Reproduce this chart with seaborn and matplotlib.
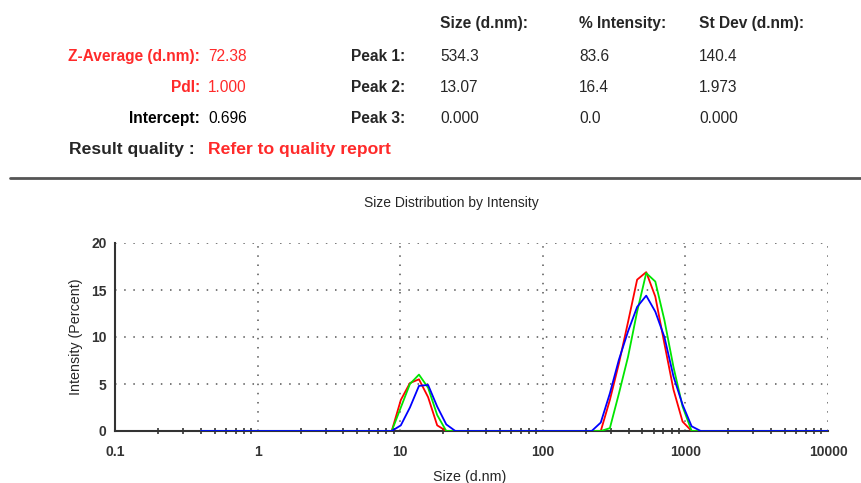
import pandas as pd
import numpy as np
import seaborn as sns
import matplotlib.pyplot as plt

# size classes (d.nm)
sizes = [0.4, 0.4632, 0.5365, 0.6213, 0.7195, 0.8332, 0.9649, 1.117, 1.294, 1.499,
         1.736, 2.010, 2.328, 2.696, 3.122, 3.615, 4.187, 4.849, 5.615, 6.503,
         7.531, 8.721, 10.10, 11.70, 13.54, 15.69, 18.17, 21.04, 24.36, 28.21,
         32.67, 37.84, 43.82, 50.75, 58.77, 68.06, 78.82, 91.28, 105.7, 122.4,
         141.8, 164.2, 190.1, 220.2, 255.0, 295.3, 342.0, 396.1, 458.7, 531.2,
         615.1, 712.4, 825.0, 955.4, 1106, 1281, 1484, 1718, 1990, 2305,
         2669, 3091, 3580, 4145, 4801, 5560, 6439, 7456, 8635, 10000]

run_red = [0, 0, 0, 0, 0, 0, 0, 0, 0, 0,
           0, 0, 0, 0, 0, 0, 0, 0, 0, 0,
           0, 0, 3.3, 5.1, 5.5, 3.6, 0.6, 0, 0, 0,
           0, 0, 0, 0, 0, 0, 0, 0, 0, 0,
           0, 0, 0, 0, 0, 3.3, 7.2, 11.6, 16.1, 16.9,
           14.3, 9.3, 4.4, 1.0, 0, 0, 0, 0, 0, 0,
           0, 0, 0, 0, 0, 0, 0, 0, 0, 0]

run_green = [0, 0, 0, 0, 0, 0, 0, 0, 0, 0,
             0, 0, 0, 0, 0, 0, 0, 0, 0, 0,
             0, 0, 2.5, 5.0, 6.0, 4.6, 1.7, 0, 0, 0,
             0, 0, 0, 0, 0, 0, 0, 0, 0, 0,
             0, 0, 0, 0, 0, 0.3, 4.0, 7.9, 12.7, 16.8,
             15.9, 11.8, 6.8, 2.6, 0, 0, 0, 0, 0, 0,
             0, 0, 0, 0, 0, 0, 0, 0, 0, 0]

run_blue = [0, 0, 0, 0, 0, 0, 0, 0, 0, 0,
            0, 0, 0, 0, 0, 0, 0, 0, 0, 0,
            0, 0, 0.6, 2.5, 4.8, 4.9, 2.6, 0.7, 0, 0,
            0, 0, 0, 0, 0, 0, 0, 0, 0, 0,
            0, 0, 0, 0, 0.9, 4.0, 7.6, 10.6, 13.2, 14.4,
            12.7, 10.0, 5.8, 2.8, 0.5, 0, 0, 0, 0, 0,
            0, 0, 0, 0, 0, 0, 0, 0, 0, 0]

xticks = [0.1, 1, 10, 100, 1000, 10000]
xticklabels = ['0.1', '1', '10', '100', '1000', '10000']
yticks = [0, 5, 10, 15, 20]

# header table
col_heads = ['Size (d.nm):', '% Intensity:', 'St Dev (d.nm):']
peak_labels = ['Peak 1:', 'Peak 2:', 'Peak 3:']
peak_size = ['534.3', '13.07', '0.000']
peak_int = ['83.6', '16.4', '0.0']
peak_sd = ['140.4', '1.973', '0.000']
left_labels = ['Z-Average (d.nm):', 'PdI:', 'Intercept:']
left_values = ['72.38', '1.000', '0.696']
left_colors = ['#ff2a2a', '#ff2a2a', 'black']

df = pd.concat([
    pd.DataFrame({'size': sizes, 'intensity': run_red, 'run': 'r1'}),
    pd.DataFrame({'size': sizes, 'intensity': run_green, 'run': 'r2'}),
    pd.DataFrame({'size': sizes, 'intensity': run_blue, 'run': 'r3'}),
])

sns.set_style('white')
plt.rcParams['font.family'] = ['Liberation Sans', 'DejaVu Sans']

W, H = 862, 483
fig = plt.figure(figsize=(W / 100, H / 100), dpi=100)

def px(x, y):
    return x / W, 1 - y / H

# header
VA = 'center_baseline'
for x, t in zip([440, 579, 699], col_heads):
    fig.text(*px(x, 22), t, fontsize=11.2, fontweight='bold', va=VA, ha='left')
rows_y = [55, 86, 117]
for i, y in enumerate(rows_y):
    fig.text(*px(200, y), left_labels[i], fontsize=11.2, fontweight='bold',
             color=left_colors[i], va=VA, ha='right')
    fig.text(*px(208, y), left_values[i], fontsize=11.2, color=left_colors[i],
             va=VA, ha='left')
    fig.text(*px(405, y), peak_labels[i], fontsize=11.2, fontweight='bold',
             va=VA, ha='right')
    fig.text(*px(440, y), peak_size[i], fontsize=11.2, va=VA, ha='left')
    fig.text(*px(579, y), peak_int[i], fontsize=11.2, va=VA, ha='left')
    fig.text(*px(699, y), peak_sd[i], fontsize=11.2, va=VA, ha='left')
fig.text(*px(195, 148), 'Result quality :', fontsize=12.6, fontweight='bold',
         va=VA, ha='right')
fig.text(*px(208, 148), 'Refer to quality report', fontsize=12.6, fontweight='bold',
         color='#ff2a2a', va=VA, ha='left')
fig.add_artist(plt.Line2D([10 / W, 1], [1 - 178 / H] * 2, color='#555555', lw=2))
fig.text(*px(451, 201), 'Size Distribution by Intensity', fontsize=10, va=VA, ha='center')
fig.text(*px(470, 475), 'Size (d.nm)', fontsize=10.3, va=VA, ha='center')

ax = fig.add_axes([115 / W, 1 - 431 / H, (828 - 115) / W, (431 - 243) / H])
sns.lineplot(data=df, x='size', y='intensity', hue='run', estimator=None,
             palette=['#ff0000', '#00e600', '#0000ff'], linewidth=1.3,
             legend=False, ax=ax, zorder=3)
ax.set_xscale('log')
ax.set_xlim(0.1, 10000)
ax.set_ylim(0, 20)
ax.set_xticks(xticks)
ax.set_xticklabels(xticklabels, fontweight='bold')
ax.set_yticks(yticks)
ax.set_yticklabels([str(v) for v in yticks], fontweight='bold')
ax.set_yticks([2.5, 7.5, 12.5, 17.5], minor=True)
ax.tick_params(which='major', direction='inout', length=6, width=1.2, color='#333333',
               labelsize=10, labelcolor='#333333')
ax.tick_params(axis='x', which='major', pad=7)
ax.tick_params(axis='y', which='major', pad=3)
ax.tick_params(which='minor', direction='inout', length=5, width=1.2, color='#333333')
ax.tick_params(axis='x', which='minor', bottom=True)
ax.grid(True, which='major', color='#555555', linestyle=(0, (1, 5)), linewidth=1.1)
sns.despine(ax=ax)
for s in ['left', 'bottom']:
    ax.spines[s].set_color('#333333')
    ax.spines[s].set_linewidth(1.5)
ax.set_xlabel('')
ax.set_ylabel('Intensity (Percent)', fontsize=10.3, labelpad=6)

fig.savefig('out.png', dpi=100)
